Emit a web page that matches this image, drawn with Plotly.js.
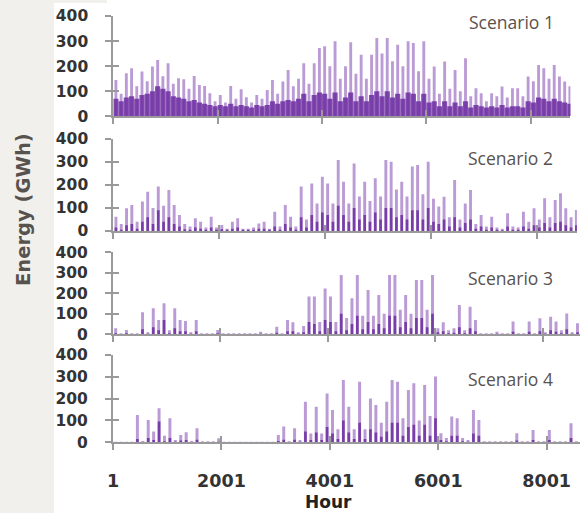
<!DOCTYPE html>
<html>
<head>
<meta charset="utf-8">
<script src="https://cdn.plot.ly/plotly-3.0.1.min.js"></script>
<style>
html,body{margin:0;padding:0;overflow:hidden;background:#fff;width:580px;height:513px;}
#chart{width:600px;height:513px;}
</style>
</head>
<body>
<div id="chart"></div>
<script>
// ---- data (GWh, 100-hour bins: peak level and dense core level) ----
const scenarioNames = ['Scenario 1', 'Scenario 2', 'Scenario 3', 'Scenario 4'];
const xTickVals = [1, 2001, 4001, 6001, 8001];
const xTickText = ['1', '2001', '4001', '6001', '8001'];
const yTickVals = [0, 100, 200, 300, 400];

const peak1 = [145,90,172,192,120,179,140,199,225,160,
  212,130,152,148,110,161,125,121,92,60,
  85,55,121,70,108,76,55,85,70,105,
  145,90,139,185,120,150,212,130,212,272,
  279,200,299,150,200,295,170,245,150,245,
  312,250,312,220,285,200,299,292,180,299,
  150,199,90,219,110,185,100,232,80,112,
  92,60,92,80,119,75,112,112,80,159,
  140,205,192,150,205,159,139,120];
const core1 = [70,60,75,80,70,85,90,100,120,110,
  100,80,75,70,60,65,55,50,45,40,
  45,40,50,40,45,40,35,45,40,45,
  60,50,60,65,60,70,90,60,85,95,
  90,70,95,60,75,95,60,80,60,85,
  100,80,100,75,90,70,95,90,60,90,
  55,60,40,60,40,55,40,60,35,45,
  40,35,40,35,45,35,40,40,35,60,
  55,75,70,60,70,60,55,50];

const peak2 = [62,30,99,113,40,128,171,100,193,110,
  178,113,70,30,20,55,40,15,62,15,
  26,10,40,55,10,10,15,33,40,10,
  84,20,113,62,20,193,50,207,120,236,
  207,120,309,214,120,294,150,214,130,229,
  150,309,301,180,214,150,280,287,160,301,
  140,106,149,60,222,50,120,178,30,70,
  20,62,15,10,77,20,15,84,40,99,
  50,142,60,135,164,99,60,91];
const core2 = [15,5,25,30,10,40,60,30,90,40,60,30,20,
  8,5,15,10,5,15,5,8,5,10,15,5,5,5,10,10,5,20,5,30,15,5,
  60,15,70,40,80,70,40,110,70,40,100,50,70,40,80,50,100,100,60,70,50,90,90,50,100,
  40,30,50,20,60,15,35,50,10,20,5,15,5,3,20,5,5,20,10,25,15,35,15,35,40,25,15,25];

const peak3 = [29,5,21,5,5,107,10,127,70,151,
  20,127,70,65,10,70,5,5,5,21,
  5,5,5,5,5,5,5,13,5,5,
  37,5,70,59,10,40,184,184,60,224,
  184,60,289,80,176,289,90,216,90,192,
  100,289,289,120,192,100,265,265,120,289,
  30,59,20,30,143,20,135,70,5,5,
  5,13,5,5,62,5,5,62,5,78,
  10,86,62,20,102,10,54,10];
const core3 = [5,2,5,2,2,
  25,3,35,20,70,5,30,15,15,3,15,
  2,2,2,5,2,2,2,2,2,2,2,3,2,2,8,2,15,
  15,3,10,
  60,50,15,70,60,15,100,20,50,90,25,60,25,50,30,90,90,35,60,30,80,80,35,100,
  10,15,5,8,35,5,30,15,2,2,2,3,2,2,12,2,2,12,2,15,3,20,12,5,25,3,10,3];

const peak4 = [3,3,3,3,125,5,102,49,156,30,
  110,10,34,46,5,64,5,5,5,18,
  3,3,3,3,3,3,3,3,3,3,
  34,72,5,64,10,186,40,163,40,224,
  148,60,285,163,60,278,60,201,171,90,
  186,285,278,110,240,270,100,263,120,301,
  41,20,118,110,20,10,148,102,5,5,
  5,5,5,5,41,5,5,56,5,5,
  56,5,5,5,87,5,5,5];
const core4 = [1,1,1,1,
  15,2,20,10,95,5,20,3,8,10,2,12,
  1,1,1,3,1,1,1,1,1,1,1,1,1,1,6,12,1,
  12,3,
  50,10,45,10,70,40,15,100,45,15,90,15,60,45,25,50,90,90,30,70,80,30,80,30,110,
  10,5,30,30,5,3,40,30,1,1,1,1,1,1,8,1,1,10,1,1,10,1,1,1,20,1,1,1];

const peaks = [peak1, peak2, peak3, peak4];
const cores = [core1, core2, core3, core4];

// ---- layout geometry (paper px of a 600x513 canvas) ----
const W = 600, H = 513;
const panelGeom = [
  {x0: 113.3, x1: 570.4, yTop: 16,    yBot: 116.3, lx: 511.5, ly: 22,    coreW: 100},
  {x0: 113.3, x1: 576.9, yTop: 139,   yBot: 231,   lx: 510,   ly: 158,   coreW: 50},
  {x0: 113.0, x1: 583.4, yTop: 252.3, yBot: 334.3, lx: 510,   ly: 277.5, coreW: 50},
  {x0: 113.0, x1: 587.8, yTop: 355,   yBot: 442.3, lx: 510,   ly: 379,   coreW: 50}
];
const axisGray = '#9a9a9a';
const tickFontY = {family: 'DejaVu Sans', size: 15.5, color: '#333333', weight: 'bold'};
const tickFontX = {family: 'DejaVu Sans', size: 17.5, color: '#333333', weight: 'bold'};

const traces = [];
const layout = {
  width: W, height: H,
  margin: {l: 0, r: 0, t: 0, b: 0},
  paper_bgcolor: '#ffffff',
  plot_bgcolor: 'rgba(0,0,0,0)',
  barmode: 'overlay',
  showlegend: false,
  shapes: [
    {type: 'rect', xref: 'paper', yref: 'paper', x0: 0, x1: 54 / W, y0: 0, y1: 1,
     fillcolor: '#f1f0ec', line: {width: 0}, layer: 'below'},
    {type: 'rect', xref: 'paper', yref: 'paper', x0: 54 / W, x1: 107 / W, y0: 1 - 3 / H, y1: 1,
     fillcolor: '#f1f0ec', line: {width: 0}, layer: 'below'}
  ],
  annotations: []
};

for (let i = 0; i < 4; i++) {
  const k = i + 1, ko = i + 5;
  const g = panelGeom[i];
  const xs = k === 1 ? '' : String(k);
  const xd = [g.x0 / W, g.x1 / W];
  const yd = [1 - g.yBot / H, 1 - g.yTop / H];

  traces.push({
    type: 'bar', x0: 50, dx: 100, y: peaks[i], width: 55,
    xaxis: 'x' + xs, yaxis: 'y' + xs,
    marker: {color: 'rgba(120,56,172,0.5)', line: {width: 0}},
    hoverinfo: 'skip'
  });
  traces.push({
    type: 'bar', x0: 50, dx: 100, y: cores[i], width: g.coreW,
    xaxis: 'x' + xs, yaxis: 'y' + xs,
    marker: {color: 'rgba(106,40,160,0.82)', line: {width: 0}},
    hoverinfo: 'skip'
  });
  traces.push({
    type: 'scatter', x: [null], y: [null], mode: 'markers',
    xaxis: 'x' + ko, yaxis: 'y' + ko, hoverinfo: 'skip'
  });

  layout['xaxis' + xs] = {
    domain: xd, range: [0, 8760], anchor: 'y' + xs,
    tickmode: 'array', tickvals: xTickVals, ticktext: xTickText,
    ticks: 'outside', ticklen: 6, tickwidth: 2, tickcolor: axisGray,
    showline: true, linecolor: axisGray, linewidth: 2,
    showgrid: false, zeroline: false, fixedrange: true,
    showticklabels: k === 4, tickfont: tickFontX, ticklabelstandoff: 16
  };
  layout['yaxis' + xs] = {
    domain: yd, range: [0, 400], anchor: 'x' + xs,
    tickmode: 'array', tickvals: yTickVals,
    ticks: 'outside', ticklen: 6, tickwidth: 2, tickcolor: axisGray,
    showline: true, linecolor: axisGray, linewidth: 2,
    showgrid: false, zeroline: false, fixedrange: true,
    tickfont: tickFontY, ticklabelstandoff: 14
  };
  layout['xaxis' + ko] = {
    overlaying: 'x' + xs, anchor: 'y' + ko, range: [0, 8760],
    tickmode: 'array', tickvals: xTickVals,
    ticks: 'inside', ticklen: 6, tickwidth: 2, tickcolor: axisGray,
    showline: false, showgrid: false, zeroline: false, showticklabels: false
  };
  layout['yaxis' + ko] = {
    overlaying: 'y' + xs, anchor: 'x' + ko, range: [0, 400],
    tickmode: 'array', tickvals: yTickVals,
    ticks: 'inside', ticklen: 6, tickwidth: 2, tickcolor: axisGray,
    showline: false, showgrid: false, zeroline: false, showticklabels: false
  };

  layout.annotations.push({
    text: scenarioNames[i], xref: 'paper', yref: 'paper',
    x: g.lx / W, y: 1 - g.ly / H, xanchor: 'center', yanchor: 'middle',
    showarrow: false, font: {family: 'Open Sans', size: 17.5, color: '#5a524e'}
  });
}

layout.annotations.push({
  text: 'Energy (GWh)', xref: 'paper', yref: 'paper',
  x: 23 / W, y: 1 - 210 / H, xanchor: 'center', yanchor: 'middle', textangle: -90,
  showarrow: false, font: {family: 'DejaVu Sans', size: 19.5, color: '#58524e', weight: 'bold'}
});
layout.annotations.push({
  text: 'Hour', xref: 'paper', yref: 'paper',
  x: 328 / W, y: 1 - 502 / H, xanchor: 'center', yanchor: 'middle',
  showarrow: false, font: {family: 'DejaVu Sans', size: 17, color: '#222222', weight: 'bold'}
});

Plotly.newPlot('chart', traces, layout, {staticPlot: true, displayModeBar: false});
</script>
</body>
</html>
